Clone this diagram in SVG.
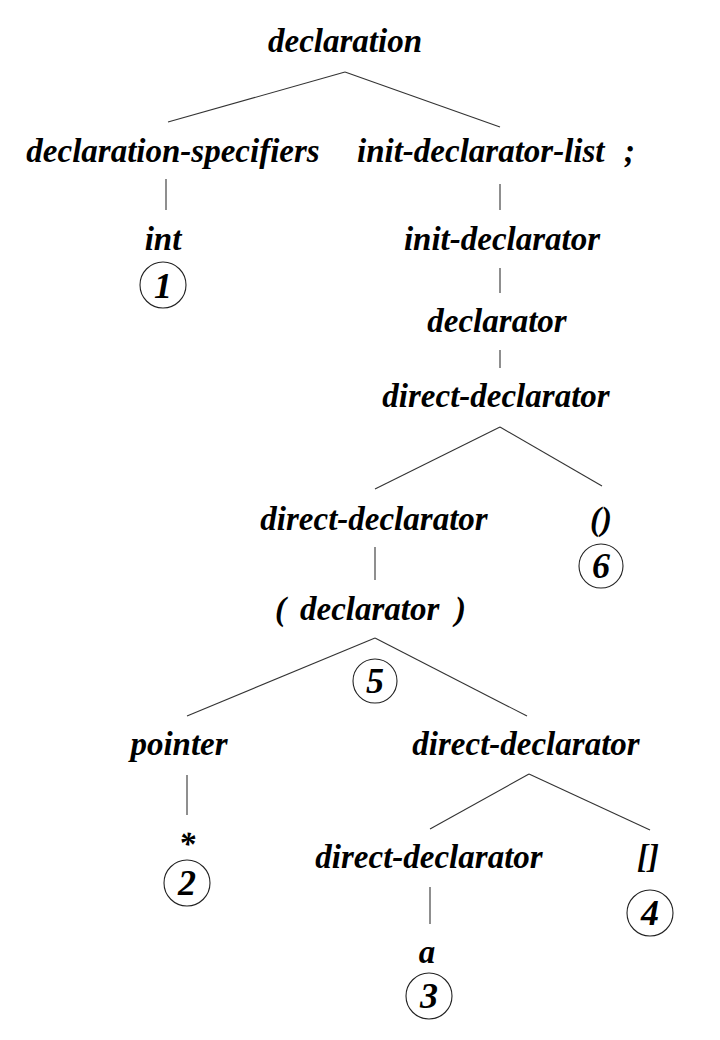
<svg xmlns="http://www.w3.org/2000/svg" width="720" height="1040" viewBox="0 0 720 1040">
<style>
text{font-family:"Liberation Serif","Times New Roman",serif;font-weight:bold;font-style:italic;font-size:33px;fill:#000}
.c text{text-anchor:middle}
.num{font-size:36px}
line{stroke:#333;stroke-width:1.1}
circle{fill:none;stroke:#222;stroke-width:1.1}
</style>
<rect width="720" height="1040" fill="#fff"/>
<g id="connectors">
<line x1="345" y1="72" x2="168" y2="122"/>
<line x1="345" y1="72" x2="500" y2="127"/>
<line x1="166" y1="179" x2="166" y2="210"/>
<line x1="500" y1="184" x2="500" y2="210"/>
<line x1="500" y1="268" x2="500" y2="293"/>
<line x1="500" y1="350" x2="500" y2="368"/>
<line x1="500" y1="427" x2="375" y2="489"/>
<line x1="500" y1="427" x2="602" y2="486"/>
<line x1="375" y1="547" x2="375" y2="580"/>
<line x1="375" y1="638" x2="187" y2="716"/>
<line x1="375" y1="638" x2="527" y2="716"/>
<line x1="187" y1="775" x2="187" y2="815"/>
<line x1="529" y1="774" x2="430" y2="829"/>
<line x1="529" y1="774" x2="650" y2="830"/>
<line x1="430" y1="887" x2="430" y2="924"/>
</g>
<g id="n-declaration" class="c"><text x="345" y="52">declaration</text></g>
<g id="n-declspec" class="c"><text x="173" y="162">declaration-specifiers</text></g>
<g id="n-initdecllist"><text y="162"><tspan x="357">init-declarator-list</tspan><tspan x="624">;</tspan></text></g>
<g id="n-int" class="c"><text x="163" y="250">int</text><circle cx="163" cy="285" r="23"/><text class="num" x="163" y="298">1</text></g>
<g id="n-initdecl" class="c"><text x="502" y="250">init-declarator</text></g>
<g id="n-declarator" class="c"><text x="497" y="332">declarator</text></g>
<g id="n-dd1" class="c"><text x="496" y="407">direct-declarator</text></g>
<g id="n-dd2" class="c"><text x="374" y="530">direct-declarator</text></g>
<g id="n-paren" class="c"><text x="601" y="530">()</text><circle cx="601" cy="566" r="22"/><text class="num" x="601" y="578">6</text></g>
<g id="n-pdecl"><text y="620"><tspan x="275">(</tspan><tspan x="300">declarator</tspan><tspan x="455">)</tspan></text></g>
<g id="n-5" class="c"><circle cx="375" cy="681" r="22"/><text class="num" x="375" y="693">5</text></g>
<g id="n-pointer" class="c"><text x="179" y="755">pointer</text></g>
<g id="n-dd3" class="c"><text x="526" y="755">direct-declarator</text></g>
<g id="n-star" class="c"><text x="187" y="855">*</text><circle cx="187" cy="883" r="23"/><text class="num" x="187" y="895">2</text></g>
<g id="n-dd4" class="c"><text x="429" y="868">direct-declarator</text></g>
<g id="n-brackets" class="c"><text x="648" y="868">[]</text><circle cx="650" cy="913" r="23"/><text class="num" x="650" y="925">4</text></g>
<g id="n-a" class="c"><text x="427" y="963">a</text><circle cx="429" cy="996" r="23"/><text class="num" x="429" y="1008">3</text></g>
</svg>
